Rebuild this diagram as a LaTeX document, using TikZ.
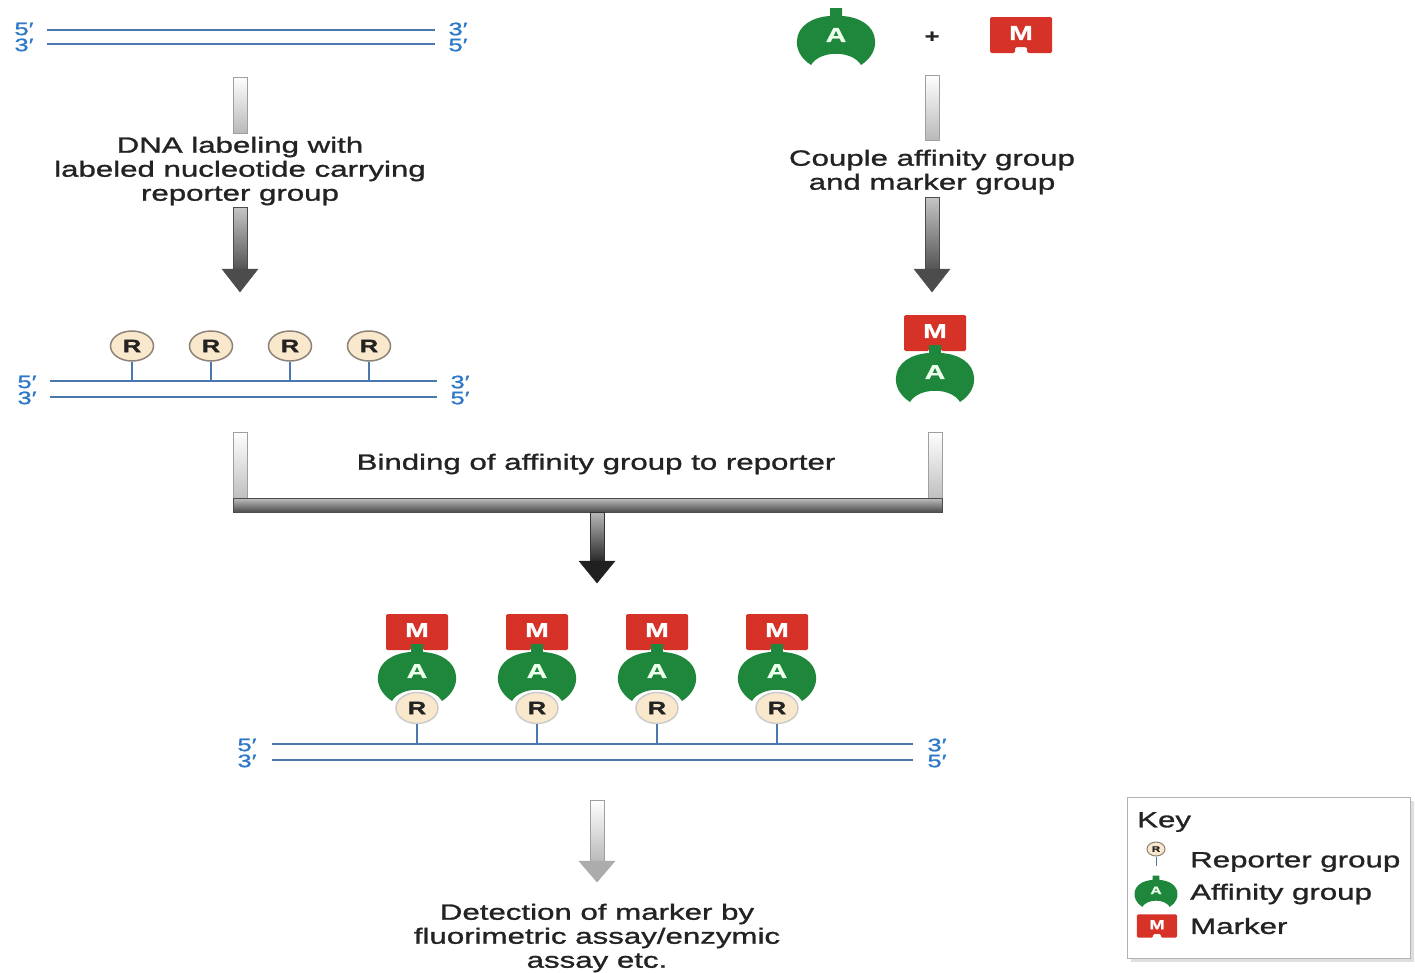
\documentclass[tikz,border=0pt]{standalone}
\usepackage{fontspec}
\setmainfont{Liberation Sans}[FakeStretch=1.42, FakeBold=1.2]
\usetikzlibrary{shapes.geometric}
\definecolor{dnablue}{RGB}{75,120,175}
\definecolor{primeblue}{RGB}{45,120,200}
\definecolor{agreen}{RGB}{30,135,60}
\definecolor{mred}{RGB}{215,50,40}
\definecolor{rfill}{RGB}{250,232,205}
\definecolor{rborder}{RGB}{140,130,120}
\definecolor{txt}{RGB}{35,35,35}
\tikzset{
  lbl/.style={font=\fontsize{22}{24}\selectfont, align=center, text=txt, inner sep=0},
  keytxt/.style={font=\fontsize{22}{24}\selectfont, anchor=west, text=txt, inner sep=0},
  prime/.style={font=\fontsize{18}{16}\selectfont, align=center, text=primeblue, inner sep=0},
  dna/.style={draw=dnablue, line width=2.5pt},
  stem/.style={draw=dnablue, line width=1.5pt},
  rgrp/.style={ellipse, draw=rborder, fill=rfill, line width=1.5pt, minimum width=43pt, minimum height=30pt, inner sep=0, font=\bfseries\fontsize{18}{18}\selectfont, text=txt},
  alet/.style={font=\bfseries\fontsize{20}{20}\selectfont, text=green!8, inner sep=0},
  mlet/.style={font=\bfseries\fontsize{20}{20}\selectfont, text=white, inner sep=0},
  shaftA/.style={draw=gray!75, line width=1pt, top color=white, bottom color=gray!55},
  shaftB/.style={draw=gray!60!black, line width=1pt, top color=gray!45, bottom color=gray!65!black},
  headA/.style={fill=gray!65, draw=gray!70},
  headB/.style={fill=gray!60!black, draw=gray!60!black},
  headC/.style={fill=gray!25!black, draw=gray!25!black},
  affinity/.pic={
    \fill[agreen] (-25,27) .. controls (-36,20) and (-40,10) .. (-39,2)
      .. controls (-38,-12) and (-24,-21) .. (-6,-22) -- (-6,-30) -- (6,-30) -- (6,-22)
      .. controls (24,-21) and (38,-12) .. (39,2)
      .. controls (40,10) and (36,20) .. (25,27)
      .. controls (16,12) and (-16,12) .. (-25,27) -- cycle;
    \node[alet] (-t) at (0,-3) {A};
  },
  marker/.pic={
    \fill[mred,rounded corners=1.5pt] (-31,-18) -- (31,-18) -- (31,18) -- (6,18) -- (6,12) -- (-6,12) -- (-6,18) -- (-31,18) -- cycle;
    \node[mlet] (-t) at (0,-2) {M};
  },
}
\begin{document}
\begin{tikzpicture}[x=1pt,y=-1pt]
\useasboundingbox[fill=white] (0,0) rectangle (1415,972);

% ---------- top left DNA ----------
\draw[dna] (47,30) -- (435,30);
\draw[dna] (47,44) -- (435,44);
\node[prime] (tl) at (24,37) {5′\\3′};
\node[prime] (tr) at (458,37) {3′\\5′};

% left arrow
\draw[shaftA] (233,77) rectangle (247,133);
\node[lbl] (dnalab) at (240,171) {DNA labeling with\\labeled nucleotide carrying\\reporter group};
\draw[shaftB] (233,207) rectangle (247,270);
\fill[headB] (222,269) -- (258,269) -- (240,292) -- cycle;

% ---------- top right ----------
\pic (a0) at (836,38) {affinity};
\node[font=\bfseries\fontsize{18}{18}\selectfont, text=txt] (plus) at (932,37) {+};
\pic (m0) at (1021,35) {marker};

\draw[shaftA] (925,75) rectangle (939,140);
\node[lbl] (couple) at (932,172) {Couple affinity group\\and marker group};
\draw[shaftB] (925,197) rectangle (939,270);
\fill[headB] (914,269) -- (950,269) -- (932,292) -- cycle;

\pic (m1) at (935,333) {marker};
\pic (a1) at (935,375) {affinity};

% ---------- middle DNA ----------
\draw[dna] (50,381) -- (437,381);
\draw[dna] (50,397) -- (437,397);
\node[prime] (ml) at (27,390) {5′\\3′};
\node[prime] (mr) at (460,390) {3′\\5′};
\foreach \i/\x in {1/132,2/211,3/290,4/369}{
  \node[rgrp] (r\i) at (\x,346) {R};
  \draw[stem] (r\i.south) -- (r\i.south |- 0,380);
}

% ---------- binding bracket ----------
\draw[shaftA] (233,432) rectangle (247,505);
\draw[shaftA] (928,432) rectangle (942,505);
\draw[draw=gray!60!black, line width=1pt, top color=gray!50, bottom color=gray!60!black] (233,498) rectangle (942,512);
\draw[draw=gray!40!black, line width=1pt, top color=gray!55, bottom color=gray!30!black] (590,512) rectangle (604,562);
\fill[headC] (579,561) -- (615,561) -- (597,583) -- cycle;
\node[lbl] (bind) at (596,464) {Binding of affinity group to reporter};

% ---------- bottom complex ----------
\draw[dna] (272,744) -- (913,744);
\draw[dna] (272,760) -- (913,760);
\node[prime] (bl) at (247,753) {5′\\3′};
\node[prime] (br) at (937,753) {3′\\5′};
\foreach \i/\x in {1/417,2/537,3/657,4/777}{
  \pic (bm\i) at (\x,632) {marker};
  \pic (ba\i) at (\x,674) {affinity};
  \node[rgrp, minimum width=42pt, minimum height=31pt, draw=gray!40] (br\i) at (\x,708) {R};
  \draw[stem] (br\i.south) -- (br\i.south |- 0,743);
}

% ---------- bottom arrow ----------
\draw[shaftA] (590,800) rectangle (604,862);
\fill[headA] (579,861) -- (615,861) -- (597,882) -- cycle;
\node[lbl] (detect) at (597,938) {Detection of marker by\\fluorimetric assay/enzymic\\assay etc.};

% ---------- key ----------
\fill[gray!25] (1131,801) rectangle (1414,962);
\draw[fill=white, draw=gray!60, line width=1pt] (1127,797) rectangle (1410,958);
\node[keytxt] (key) at (1137,822) {Key};
\node[rgrp, minimum width=18pt, minimum height=14pt, line width=1pt, font=\bfseries\fontsize{8}{8}\selectfont] (kr) at (1156,849) {R};
\draw[stem, line width=1pt] (kr.south) -- ++(0,9);
\node[keytxt] (krt) at (1190,862) {Reporter group};
\pic[scale=0.55, transform shape] (ka) at (1156,892) {affinity};
\node[keytxt] (kat) at (1190,894) {Affinity group};
\pic[scale=0.65, transform shape] (km) at (1157,926) {marker};
\node[keytxt] (kmt) at (1190,926) {Marker};
\end{tikzpicture}
\end{document}
